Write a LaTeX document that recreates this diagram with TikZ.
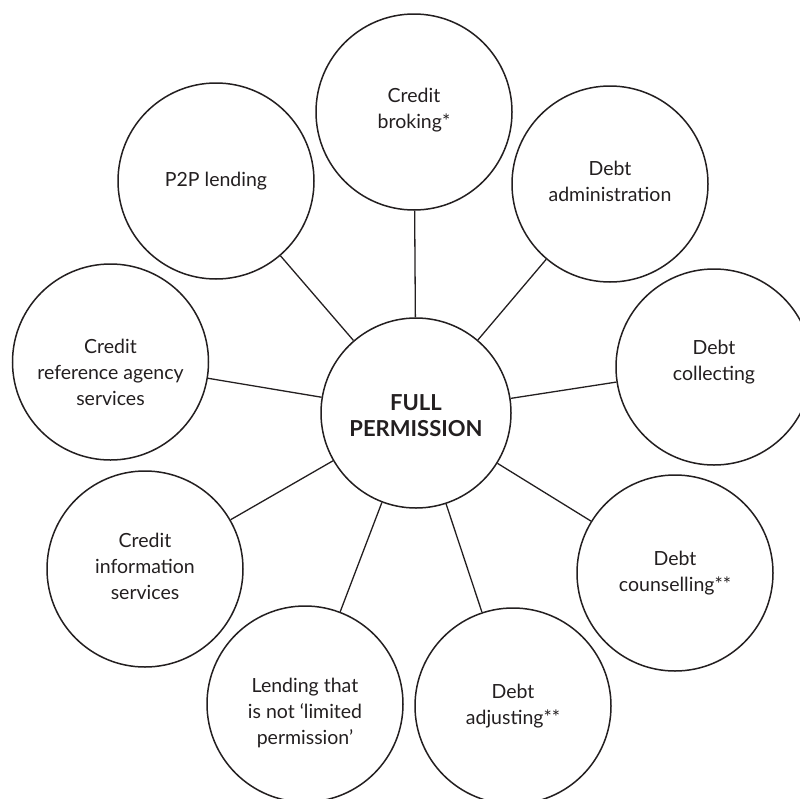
\documentclass[tikz,border=0pt]{standalone}
\usepackage{fontspec}
\setmainfont{Lato}
\definecolor{ink}{HTML}{231F20}
\begin{document}
\begin{tikzpicture}[x=1pt,y=-1pt,
  bubble/.style={circle, draw=ink, line width=1.5pt, minimum size=196pt, inner sep=0pt},
  hub/.style={circle, draw=ink, line width=1.5pt, minimum size=190pt, inner sep=0pt},
  txt/.style={align=center, text=ink, inner sep=0pt, font=\fontsize{19.5}{26}\selectfont},
  hubtxt/.style={txt, font=\fontsize{22}{26}\selectfont\bfseries},
  link/.style={draw=ink, line width=1.3pt}]
\useasboundingbox (0,0) rectangle (800,798);
\clip (0,0) rectangle (800,798);
\node[hub] (full) at (416,413) {};
\node[bubble] (broking) at (414,112) {};
\node[bubble] (p2p) at (216,181) {};
\node[bubble] (admin) at (610,184) {};
\node[bubble] (collect) at (714,367) {};
\node[bubble] (counsel) at (675,573) {};
\node[bubble] (adjust) at (513,706) {};
\node[bubble] (lending) at (305,704) {};
\node[bubble] (info) at (145,569) {};
\node[bubble] (ref) at (110.5,362) {};
\node[hubtxt] (fullT) at (416,416) {FULL\\PERMISSION};
\node[txt] (brokingT) at (414,110.5) {Credit\\broking*};
\node[txt] (p2pT) at (216,181) {P2P lending};
\node[txt] (adminT) at (610,181) {Debt\\administration};
\node[txt] (collectT) at (714,362) {Debt\\collecting};
\node[txt] (counselT) at (675,573) {Debt\\counselling**};
\node[txt] (adjustT) at (513,706) {Debt\\adjusting**};
\node[txt] (lendingT) at (305,713) {Lending that\\is not ‘limited\\permission’};
\node[txt] (infoT) at (145,566) {Credit\\information\\services};
\node[txt] (refT) at (110.5,372) {Credit\\reference agency\\services};
\foreach \n in {broking,p2p,admin,collect,counsel,adjust,lending,info,ref}
  \draw[link] (full) -- (\n);
\end{tikzpicture}
\end{document}
